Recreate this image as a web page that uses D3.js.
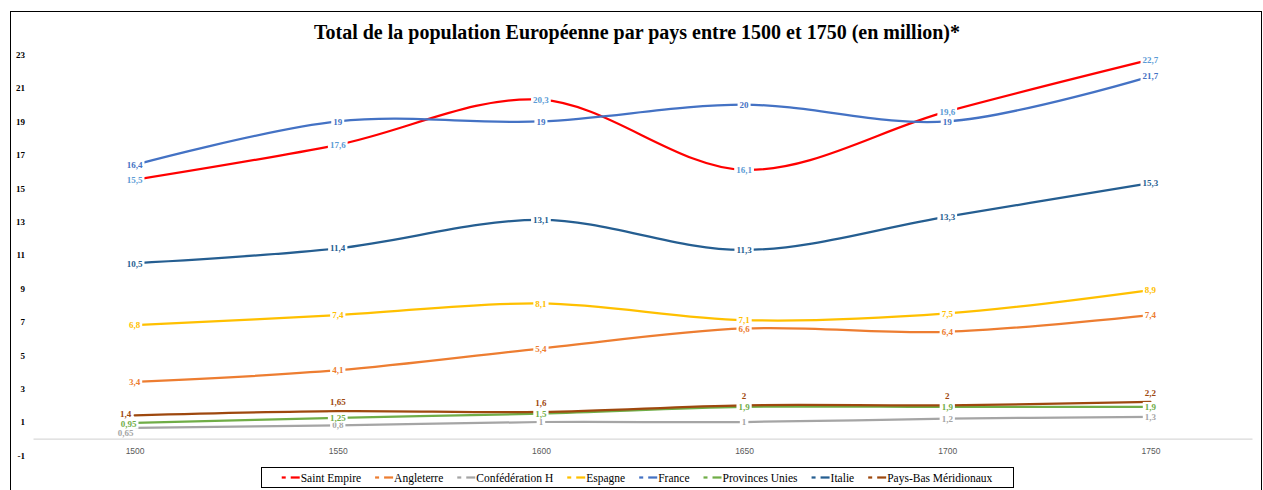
<!DOCTYPE html>
<html><head><meta charset="utf-8">
<script src="https://cdn.jsdelivr.net/npm/d3@7"></script>
<style>body{margin:0;background:#fff}svg{display:block}</style>
</head><body>
<svg id="c" width="1263" height="490"></svg>
<script>
const years = [1500, 1550, 1600, 1650, 1700, 1750];
const yTicks = [-1, 1, 3, 5, 7, 9, 11, 13, 15, 17, 19, 21, 23];
const seriesNames = ["Saint Empire", "Angleterre", "Confédération H", "Espagne", "France", "Provinces Unies", "Italie", "Pays-Bas Méridionaux"];
const saintEmpire = [15.5, 17.6, 20.3, 16.1, 19.6, 22.7];
const angleterre = [3.4, 4.1, 5.4, 6.6, 6.4, 7.4];
const confederationH = [0.65, 0.8, 1, 1, 1.2, 1.3];
const espagne = [6.8, 7.4, 8.1, 7.1, 7.5, 8.9];
const france = [16.4, 19, 19, 20, 19, 21.7];
const provincesUnies = [0.95, 1.25, 1.5, 1.9, 1.9, 1.9];
const italie = [10.5, 11.4, 13.1, 11.3, 13.3, 15.3];
const paysBas = [1.4, 1.65, 1.6, 2, 2, 2.2];
const seriesValues = [saintEmpire, angleterre, confederationH, espagne, france, provincesUnies, italie, paysBas];
const lineColors = ["#FF0000", "#ED7D31", "#A5A5A5", "#FFC000", "#4472C4", "#70AD47", "#255E91", "#9E480E"];
const labelColors = ["#5B9BD5", "#ED7D31", "#A5A5A5", "#FFC000", "#4472C4", "#70AD47", "#255E91", "#9E480E"];
const title = "Total de la population Européenne par pays entre 1500 et 1750 (en million)*";

const svg = d3.select("#c");
const serif = "'Liberation Serif','Times New Roman',serif";
const sans = "'Liberation Sans',Arial,sans-serif";

// outer frame
svg.append("rect").attr("x", 10.5).attr("y", 11.5).attr("width", 1251).attr("height", 500)
  .attr("fill", "#fff").attr("stroke", "#000").attr("stroke-width", 1);

const x = d3.scalePoint().domain(years).range([33, 1252]).padding(0.5);
const y = d3.scaleLinear().domain([-1, 23]).range([455.4, 54.6]);

// title
svg.append("text").attr("x", 637).attr("y", 39).attr("text-anchor", "middle")
  .attr("font-family", serif).attr("font-weight", "bold").attr("font-size", 20).attr("fill", "#000")
  .text(title);

// y axis labels
const ya = svg.append("g").attr("transform", "translate(25,0)")
  .call(d3.axisLeft(y).tickValues(yTicks).tickSize(0).tickPadding(0).tickFormat(d => String(d)));
ya.select(".domain").remove();
ya.selectAll("text").attr("font-family", serif).attr("font-weight", "bold").attr("font-size", 9).attr("fill", "#000");

// x axis
const xa = svg.append("g").attr("transform", `translate(0,${y(0)})`)
  .call(d3.axisBottom(x).tickSize(0).tickPadding(9));
xa.select(".domain").attr("stroke", "#D9D9D9").attr("stroke-width", 1.3);
xa.selectAll("text").attr("font-family", sans).attr("font-size", 8.5).attr("fill", "#595959");

// lines
const line = d3.line().x((d, i) => x(years[i])).y(d => y(d)).curve(d3.curveCardinal.tension(0));
seriesValues.forEach((vals, s) => {
  svg.append("path").attr("d", line(vals)).attr("fill", "none")
    .attr("stroke", lineColors[s]).attr("stroke-width", 2.25).attr("stroke-linecap", "round");
});

// label offsets for crowded low series
function offset(s, i) {
  if (s === 7) return i === 0 ? [-9, -1] : [0, -9];
  if (s === 2 && i === 0) return [-9, 5];
  if (s === 5 && i === 0) return [-6, 1];
  return [0, 0];
}
const fmt = v => String(v).replace(".", ",");
const lab = svg.append("g");
seriesValues.forEach((vals, s) => {
  vals.forEach((v, i) => {
    const [dx, dy] = offset(s, i);
    const cx = x(years[i]) + dx, cy = y(v) + dy;
    const g = lab.append("g");
    const t = g.append("text").attr("x", cx).attr("y", cy).attr("dy", "0.35em")
      .attr("text-anchor", "middle").attr("font-family", serif).attr("font-weight", "bold")
      .attr("font-size", 9).attr("fill", labelColors[s]).text(fmt(v));
    const w = t.node().getComputedTextLength();
    g.insert("rect", "text").attr("x", cx - w / 2 - 2).attr("y", cy - 5).attr("width", w + 4).attr("height", 10).attr("fill", "#fff");
  });
});

// legend
const leg = svg.append("g");
const legX0 = 261, legX1 = 1013, legY0 = 467, legY1 = 487;
leg.append("rect").attr("x", legX0 + 0.5).attr("y", legY0 + 0.5).attr("width", legX1 - legX0).attr("height", legY1 - legY0)
  .attr("fill", "#fff").attr("stroke", "#000").attr("stroke-width", 1);
const items = leg.append("g");
let cur = 0;
seriesNames.forEach((n, s) => {
  const it = items.append("g").attr("transform", `translate(${cur},0)`);
  it.append("line").attr("x1", 0).attr("x2", 4).attr("y1", 0).attr("y2", 0).attr("stroke", lineColors[s]).attr("stroke-width", 2.25);
  it.append("line").attr("x1", 9).attr("x2", 18).attr("y1", 0).attr("y2", 0).attr("stroke", lineColors[s]).attr("stroke-width", 2.25);
  const t = it.append("text").attr("x", 19).attr("y", 0).attr("dy", "0.35em")
    .attr("font-family", serif).attr("font-size", 11.5).attr("fill", "#000").text(n);
  cur += 19 + t.node().getComputedTextLength() + 14;
});
cur -= 14;
items.attr("transform", `translate(${(legX0 + legX1) / 2 - cur / 2},${(legY0 + legY1) / 2 + 0.5})`);
</script>
</body></html>
